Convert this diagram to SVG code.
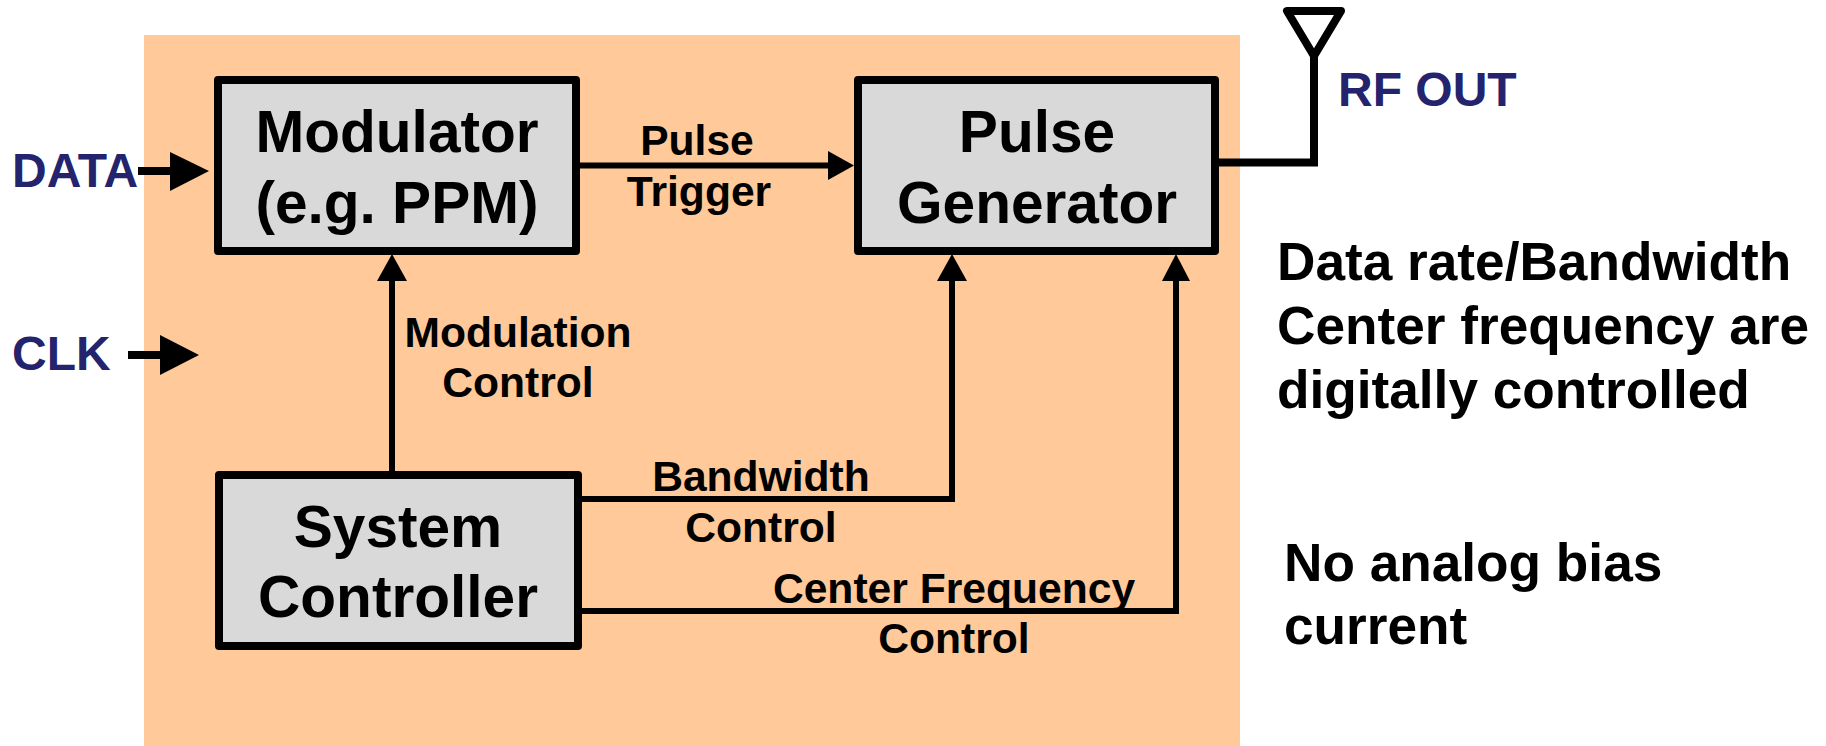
<svg xmlns="http://www.w3.org/2000/svg" width="1826" height="746" viewBox="0 0 1826 746">
<style>
text{font-family:"Liberation Sans",Arial,sans-serif;font-weight:bold;fill:#000}
.n{font-size:58.600px;text-anchor:middle}
.l{font-size:42.600px;text-anchor:middle}
.r{font-size:53.200px}
.b{font-size:48px;fill:#24246e}
.box{fill:#d9d9d9;stroke:#000;stroke-width:8;stroke-linejoin:round}
.c{fill:none;stroke:#000;stroke-width:6}
</style>
<rect x="0" y="0" width="1826" height="746" fill="#fff"/>
<rect id="background" x="144" y="35" width="1096" height="711" fill="#ffc999"/>
<g id="modulator"><rect class="box" x="218" y="80" width="358" height="171"/>
<text class="n" x="397" y="152">Modulator</text><text class="n" x="397" y="223">(e.g. PPM)</text></g>
<g id="pulse-generator"><rect class="box" x="858" y="80" width="357" height="171"/>
<text class="n" x="1037" y="152">Pulse</text><text class="n" x="1037" y="223">Generator</text></g>
<g id="system-controller"><rect class="box" x="219" y="475" width="359" height="171"/>
<text class="n" x="398" y="547">System</text><text class="n" x="398" y="617">Controller</text></g>
<g id="connectors">
<path class="c" d="M579 165.500H830"/><path d="M828 151L854 165.500L828 180Z"/>
<path class="c" d="M392 471V280"/><path d="M377 281L392 254L407 281Z"/>
<path class="c" d="M582 499H952V280"/><path d="M937 281L952 254L967 281Z"/>
<path class="c" d="M582 611H1176V280"/><path d="M1162 281L1176 254L1190 281Z"/>
<path class="c" style="stroke-width:8" d="M138 171H172"/><path d="M170 152L209 171L170 191Z"/>
<path class="c" style="stroke-width:8" d="M128 355H162"/><path d="M160 335L199 355L160 375Z"/>
<path class="c" style="stroke-width:8" d="M1219 162.500H1314V56"/>
<path d="M1287 11H1341L1314 56Z" fill="none" stroke="#000" stroke-width="8" stroke-linejoin="round"/>
</g>
<g id="labels">
<text class="l" x="697" y="155">Pulse</text><text class="l" x="699" y="206">Trigger</text>
<text class="l" x="518" y="347">Modulation</text><text class="l" x="518" y="397">Control</text>
<text class="l" x="761" y="491">Bandwidth</text><text class="l" x="761" y="542">Control</text>
<text class="l" x="954" y="603">Center Frequency</text><text class="l" x="954" y="653">Control</text>
<text class="b" x="12" y="187">DATA</text><text class="b" x="12" y="370">CLK</text><text class="b" x="1338" y="106">RF OUT</text>
<text class="r" x="1277" y="280">Data rate/Bandwidth</text>
<text class="r" x="1277" y="344">Center frequency are</text>
<text class="r" x="1277" y="408">digitally controlled</text>
<text class="r" x="1284" y="581">No analog bias</text>
<text class="r" x="1284" y="644">current</text>
</g>
</svg>
